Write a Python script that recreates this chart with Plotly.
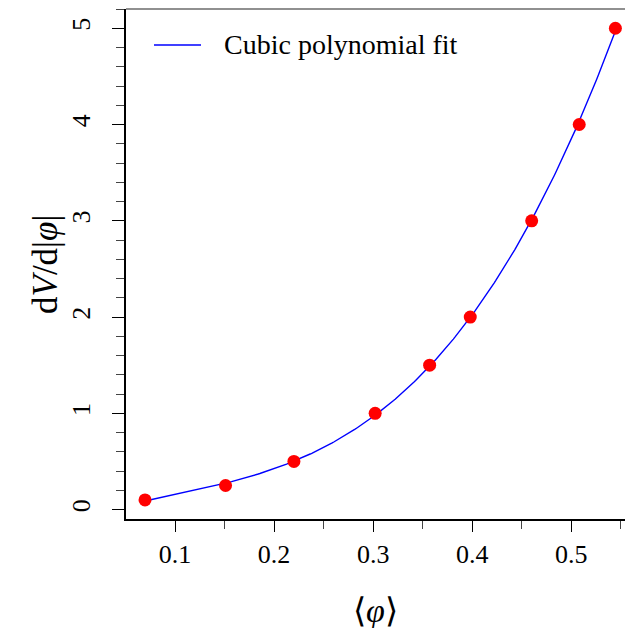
import numpy as np
import plotly.graph_objects as go

# data
phi_mean = [0.0697, 0.151, 0.220, 0.302, 0.357, 0.398, 0.460, 0.508, 0.5445]
dV_dphi = [0.1, 0.25, 0.5, 1.0, 1.5, 2.0, 3.0, 4.0, 5.0]
x_ticks = [0.1, 0.2, 0.3, 0.4, 0.5]
x_tick_labels = ["0.1", "0.2", "0.3", "0.4", "0.5"]
y_ticks = [0, 1, 2, 3, 4, 5]
y_tick_labels = ["0", "1", "2", "3", "4", "5"]
legend_label = "Cubic polynomial fit"

coef = np.polyfit(phi_mean, dV_dphi, 3)
xf = np.linspace(min(phi_mean), max(phi_mean), 300)
yf = np.polyval(coef, xf)

FONT = "Liberation Serif"
W, H = 625, 628
L, R, T, B = 126, 0, 9, 109

fig = go.Figure()
fig.add_trace(go.Scatter(x=xf, y=yf, mode="lines",
                         line=dict(color="#0000ff", width=1.4),
                         name=legend_label, showlegend=False, hoverinfo="skip"))
fig.add_trace(go.Scatter(x=phi_mean, y=dV_dphi, mode="markers",
                         marker=dict(color="#ff0000", size=13, line=dict(width=0)),
                         showlegend=False, cliponaxis=False))

pw = W - L - R
ph = H - T - B
def px2paper_x(px):
    return (px - L) / pw
def px2paper_y(py):
    return (H - B - py) / ph

# legend drawn manually
fig.add_shape(type="line", xref="paper", yref="paper",
              x0=px2paper_x(154), x1=px2paper_x(201),
              y0=px2paper_y(45), y1=px2paper_y(45),
              line=dict(color="#0000ff", width=1.4))
fig.add_annotation(xref="paper", yref="paper", x=px2paper_x(222), y=px2paper_y(45),
                   text=legend_label, showarrow=False, xanchor="left", yanchor="middle",
                   font=dict(family=FONT, size=28, color="black"))
# top border
fig.add_shape(type="line", xref="paper", yref="paper", x0=0, x1=1, y0=1, y1=1,
              line=dict(color="#222", width=1.2))

# axis titles
fig.add_annotation(xref="paper", yref="paper", x=0, y=0.5, xshift=-(L - 45),
                   text="d<i>V</i>/d|<i>φ</i>|", textangle=-90, showarrow=False,
                   xanchor="center", yanchor="middle",
                   font=dict(family=FONT, size=35, color="black"))
fig.add_annotation(xref="paper", yref="paper", x=0.5, y=0, yshift=-(610 - (H - B)),
                   text="⟨<i>φ</i>⟩", showarrow=False,
                   xanchor="center", yanchor="middle",
                   font=dict(family=FONT, size=34, color="black"))

fig.update_layout(
    width=W, height=H,
    margin=dict(l=L, r=R, t=T, b=B, pad=0),
    paper_bgcolor="white", plot_bgcolor="white",
    font=dict(family=FONT, size=26, color="black"),
    xaxis=dict(range=[0.0505, 0.5542], tickvals=x_ticks, ticktext=x_tick_labels,
               showgrid=False, zeroline=False, showline=True, linecolor="black", linewidth=2,
               ticks="outside", ticklen=11, tickwidth=1.4, tickcolor="black",
               minor=dict(dtick=0.05, tick0=0.05, ticks="outside", ticklen=8, tickwidth=1.4,
                          tickcolor="#444", showgrid=False),
               tickfont=dict(family=FONT, size=26), ticklabelstandoff=0),
    yaxis=dict(range=[-0.098, 5.2], tickvals=y_ticks, ticktext=y_tick_labels,
               showgrid=False, zeroline=False, showline=True, linecolor="black", linewidth=2,
               ticks="outside", ticklen=12, tickwidth=1.4, tickcolor="black", tickangle=-90,
               minor=dict(dtick=0.2, tick0=0, ticks="outside", ticklen=8, tickwidth=1.4,
                          tickcolor="#444", showgrid=False),
               tickfont=dict(family=FONT, size=26), ticklabelstandoff=12),
)

fig.write_html("out.html", config={"displayModeBar": False},
               post_script="document.body.style.margin='0';document.body.style.padding='0';")
